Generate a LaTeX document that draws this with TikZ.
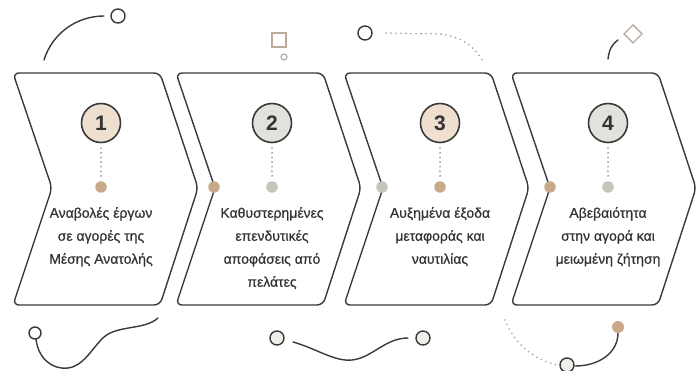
\documentclass[tikz,border=0pt]{standalone}
\usepackage{fontspec}
\setmainfont{Liberation Sans}
\newfontfamily\lblfont{Liberation Sans}[FakeBold=0.6]
\definecolor{edge}{HTML}{3A3A3A}
\definecolor{txt}{HTML}{333333}
\definecolor{tandot}{HTML}{C9A98A}
\definecolor{tanfill}{HTML}{EFDFCF}
\definecolor{grayfill}{HTML}{E2E2DD}
\definecolor{graydot}{HTML}{C5C5BD}
\definecolor{deco}{HTML}{B9AC9E}
\definecolor{dotline}{HTML}{8A8A8A}
\begin{document}
\begin{tikzpicture}[x=1pt,y=-1pt,
  chev/.style={draw=edge, line width=1.4pt, rounded corners=6pt, line join=round},
  numc/.style={circle, draw=edge, line width=1.6pt, minimum size=39pt, inner sep=0pt,
     font=\fontsize{21}{21}\selectfont\bfseries, text=txt},
  dotn/.style={circle, minimum size=11.5pt, inner sep=0pt},
  lbl/.style={align=center, font=\lblfont\fontsize{14}{23}\selectfont, text=txt, anchor=north, inner sep=0pt},
  leader/.style={draw=dotline, line width=1.8pt, line cap=round, dash pattern=on 0pt off 4.6pt},
  decoline/.style={draw=edge, line width=1.4pt, line cap=round},
  decodots/.style={draw=dotline!80, line width=1.8pt, line cap=round, dash pattern=on 0pt off 5pt},
  smallc/.style={draw=edge, line width=1.4pt}
]
\useasboundingbox (0,0) rectangle (698,371);
\fill[white] (0,0) rectangle (698,371);

% chevrons
\foreach \x in {13,176,344,511}{
  \draw[chev] (\x,73) -- (\x+147,73) -- (\x+185,188) -- (\x+147,305) -- (\x,305) -- (\x+39,188) -- cycle;
}

% number circles
\node[numc, fill=tanfill]  (n1) at (101,123) {1};
\node[numc, fill=grayfill] (n2) at (272,123) {2};
\node[numc, fill=tanfill]  (n3) at (440,123) {3};
\node[numc, fill=grayfill] (n4) at (608,123) {4};

% center dots
\node[dotn, fill=tandot]  (d1) at (101,187) {};
\node[dotn, fill=graydot] (d2) at (272,187) {};
\node[dotn, fill=tandot]  (d3) at (440,187) {};
\node[dotn, fill=graydot] (d4) at (608,187) {};

% notch dots
\node[dotn, fill=tandot]  (e2) at (214,187) {};
\node[dotn, fill=graydot] (e3) at (382,187) {};
\node[dotn, fill=tandot]  (e4) at (550,187) {};

% leaders
\foreach \i in {1,2,3,4}{
  \path[leader] ([yshift=-5pt]n\i.south) -- ([yshift=4pt]d\i.north);
}

% labels
\node[lbl] (t1) at (101,207) {Αναβολές έργων\\σε αγορές της\\Μέσης Ανατολής};
\node[lbl] (t2) at (272,207) {Καθυστερημένες\\επενδυτικές\\αποφάσεις από\\πελάτες};
\node[lbl] (t3) at (440,207) {Αυξημένα έξοδα\\μεταφοράς και\\ναυτιλίας};
\node[lbl] (t4) at (608,207) {Αβεβαιότητα\\στην αγορά και\\μειωμένη ζήτηση};

% decorations top
\draw[decoline] (44,60) .. controls (52,34) and (76,16) .. (104,16);
\draw[smallc] (118,16) circle[radius=7pt];
\draw[draw=deco, line width=1.4pt] (272,33) rectangle (286,47);
\draw[draw=deco, line width=1.2pt] (284,57) circle[radius=3pt];
\draw[smallc] (365,33) circle[radius=7pt];
\path[decodots] (386,33) -- (440,34) .. controls (460,36) and (474,46) .. (482,60);
\draw[decoline] (608,59) .. controls (609,50) and (612,44) .. (618,40);
\draw[draw=deco, line width=1.4pt] (633,25) -- (642,34) -- (633,43) -- (624,34) -- cycle;

% decorations bottom
\draw[smallc] (35,333) circle[radius=6pt];
\draw[decoline] (36,339) .. controls (38,358) and (52,370) .. (68,368)
  .. controls (84,366) and (92,348) .. (104,337)
  .. controls (118,325) and (145,330) .. (158,318);
\draw[smallc, fill=grayfill!60] (277,338) circle[radius=7pt];
\draw[decoline] (293,342) .. controls (315,348) and (335,362) .. (352,360)
  .. controls (372,358) and (385,338) .. (408,338);
\draw[smallc, fill=grayfill!60] (423,338) circle[radius=7pt];
\path[decodots] (505,320) .. controls (515,345) and (535,360) .. (557,365);
\draw[smallc, fill=grayfill!60] (567,365) circle[radius=7pt];
\draw[decoline] (575,366) .. controls (600,366) and (618,352) .. (618,333);
\fill[tandot] (618,327) circle[radius=6pt];
\end{tikzpicture}
\end{document}
